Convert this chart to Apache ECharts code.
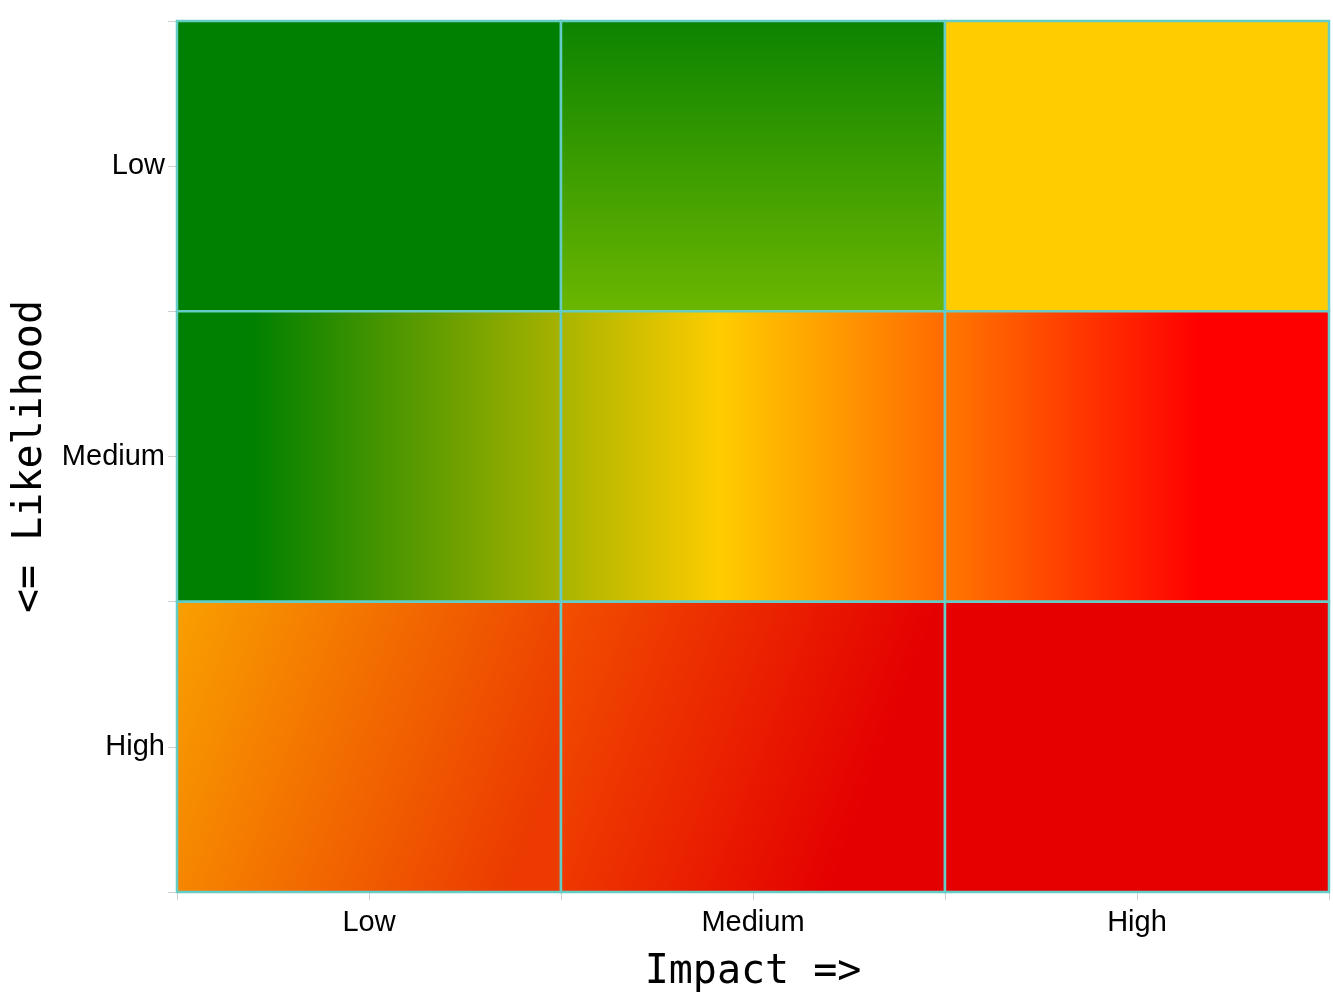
<!DOCTYPE html>
<html>
<head>
<meta charset="utf-8">
<script src="https://cdn.jsdelivr.net/npm/echarts@6/dist/echarts.min.js"></script>
<style>
html,body{margin:0;padding:0;background:#fff;}
#chart{width:1333px;height:999px;}
</style>
</head>
<body>
<div id="chart"></div>
<script>
// ---- data ----
const impactLevels = ['Low', 'Medium', 'High'];
const likelihoodLevels = ['Low', 'Medium', 'High'];
// each cell: [impact index, likelihood index, risk score]
const cells = [
  [0, 0, 1], [1, 0, 2], [2, 0, 3],
  [0, 1, 2], [1, 1, 4], [2, 1, 6],
  [0, 2, 3], [1, 2, 6], [2, 2, 9]
];

// ---- styles (gradient per cell, keyed "impact-likelihood") ----
function lg(x2, y2, stops) {
  return new echarts.graphic.LinearGradient(0, 0, x2, y2,
    stops.map(s => ({ offset: s[0], color: s[1] })));
}
const cellFill = {
  '0-0': '#008000',
  '1-0': lg(0, 1, [[0, '#0b8300'], [1, '#6cb600']]),
  '2-0': '#ffcc00',
  '0-1': lg(1, 0, [[0, '#008000'], [0.2, '#008000'], [1, '#a8b200']]),
  '1-1': lg(1, 0, [[0, '#a8b400'], [0.42, '#ffcc00'], [1, '#ff6a00']]),
  '2-1': lg(1, 0, [[0, '#ff7800'], [0.66, '#ff0000'], [1, '#ff0000']]),
  '0-2': lg(1, 0.5, [[0, '#f9a000'], [1, '#ec3a00']]),
  '1-2': lg(1, 0.5, [[0, '#f25000'], [0.86, '#e40000'], [1, '#e40000']]),
  '2-2': '#e60000'
};

const chart = echarts.init(document.getElementById('chart'), null, { renderer: 'canvas' });
const labelFont = 'Liberation Sans, Arial, sans-serif';
const monoFont = 'DejaVu Sans Mono, monospace';

const option = {
  animation: false,
  backgroundColor: '#ffffff',
  grid: { left: 177, right: 4, top: 21, bottom: 107, show: true, borderColor: '#aaaaaa', borderWidth: 1, backgroundColor: 'transparent' },
  xAxis: [
    {
      type: 'category', data: impactLevels, position: 'bottom',
      name: 'Impact =>', nameLocation: 'middle', nameGap: 61,
      nameTextStyle: { fontFamily: monoFont, fontSize: 40, color: '#000' },
      axisLine: { show: true, lineStyle: { color: '#aaaaaa', width: 1 } },
      axisTick: { show: true, length: 8, lineStyle: { color: '#d0d0d0' } },
      axisLabel: { fontFamily: labelFont, fontSize: 29, color: '#000', margin: 16 },
      splitLine: { show: false }
    },
    {
      type: 'category', data: impactLevels, position: 'bottom', gridIndex: 0,
      axisLine: { show: false },
      axisTick: { show: true, alignWithLabel: true, length: 8, lineStyle: { color: '#d0d0d0' } },
      axisLabel: { show: false },
      splitLine: { show: false }
    }
  ],
  yAxis: [
    {
      type: 'category', data: likelihoodLevels, inverse: true, position: 'left',
      name: '<= Likelihood', nameLocation: 'middle', nameGap: 123, nameRotate: 90,
      nameTextStyle: { fontFamily: monoFont, fontSize: 40, color: '#000' },
      axisLine: { show: true, lineStyle: { color: '#aaaaaa', width: 1 } },
      axisTick: { show: true, length: 9, lineStyle: { color: '#d0d0d0' } },
      axisLabel: { fontFamily: labelFont, fontSize: 29, color: '#000', margin: 12 },
      splitLine: { show: false }
    },
    {
      type: 'category', data: likelihoodLevels, inverse: true, position: 'left',
      axisLine: { show: false },
      axisTick: { show: true, alignWithLabel: true, length: 9, lineStyle: { color: '#d0d0d0' } },
      axisLabel: { show: false },
      splitLine: { show: false }
    }
  ],
  series: [{
    type: 'custom',
    xAxisIndex: 0, yAxisIndex: 0,
    data: cells,
    renderItem: function (params, api) {
      const xi = api.value(0), yi = api.value(1);
      const c = api.coord([xi, yi]);
      const s = api.size([1, 1]);
      return {
        type: 'rect',
        shape: { x: c[0] - s[0] / 2, y: c[1] - s[1] / 2, width: s[0], height: s[1] },
        style: { fill: cellFill[xi + '-' + yi], stroke: '#66ccc6', lineWidth: 2.5 }
      };
    }
  }]
};
chart.setOption(option);
</script>
</body>
</html>
